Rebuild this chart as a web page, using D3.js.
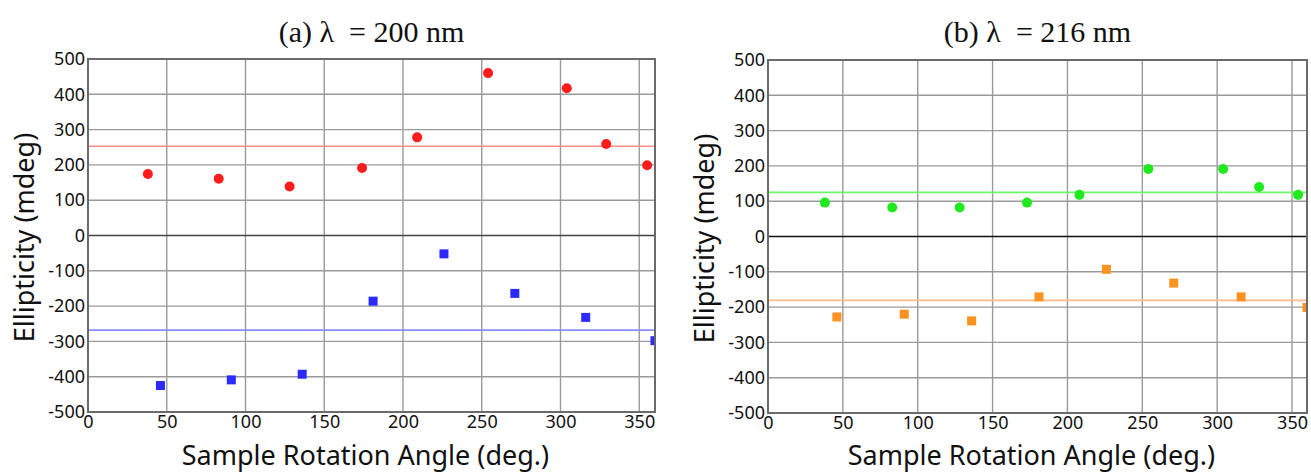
<!DOCTYPE html>
<html lang="en">
<head>
  <meta charset="UTF-8">
  <title>Ellipticity vs rotation angle</title>
  <style>
    body { margin: 0; background: #fff; }
    .tick text { font: 18px "Noto Sans", sans-serif; fill: #111; }
    .grid line { stroke: #9a9a9a; stroke-width: 1.4px; }
    .title { font: 30px "Liberation Serif", serif; fill: #111; white-space: pre; }
    .axis-title { font: 27px "Noto Sans", sans-serif; fill: #111; }
  </style>
</head>
<body>
  <svg width="1311" height="475"></svg>

  <script src="https://d3js.org/d3.v7.min.js"></script>
  <script>
    // tick labels
    const xTicks = [0, 50, 100, 150, 200, 250, 300, 350];
    const yTicks = [-500, -400, -300, -200, -100, 0, 100, 200, 300, 400, 500];

    // (a) 200 nm
    const anglesA_circ = [38, 83, 128, 174, 209, 254, 304, 329, 355];
    const valuesA_red  = [174, 161, 139, 191, 278, 460, 417, 259, 199];
    const anglesA_sq   = [46, 91, 136, 181, 226, 271, 316, 360];
    const valuesA_blue = [-425, -409, -393, -186, -52, -164, -232, -298];
    const meanA_red  = 253;
    const meanA_blue = -268;

    // (b) 216 nm
    const anglesB_circ   = [38, 83, 128, 173, 208, 254, 304, 328, 354];
    const valuesB_green  = [96, 82, 82, 96, 118, 191, 191, 140, 118];
    const anglesB_sq     = [46, 91, 136, 181, 226, 271, 316, 360];
    const valuesB_orange = [-228, -220, -239, -171, -93, -132, -171, -201];
    const meanB_green  = 125;
    const meanB_orange = -181;

    const svg = d3.select("svg");

    const panels = [
      {
        id: "a", title: "(a) \u03bb  = 200 nm",
        left: 88, right: 655, top: 59, bottom: 412,
        circ: { x: anglesA_circ, y: valuesA_red, color: "#ff1c1c", line: "#ff8c8c", mean: meanA_red },
        sq:   { x: anglesA_sq, y: valuesA_blue, color: "#2b2bff", line: "#8c8cff", mean: meanA_blue },
        zero: "#444"
      },
      {
        id: "b", title: "(b) \u03bb  = 216 nm",
        left: 768, right: 1307, top: 60, bottom: 413,
        circ: { x: anglesB_circ, y: valuesB_green, color: "#1eea1e", line: "#6cf76c", mean: meanB_green },
        sq:   { x: anglesB_sq, y: valuesB_orange, color: "#fb9322", line: "#ffb98a", mean: meanB_orange },
        zero: "#111"
      }
    ];

    panels.forEach(p => {
      const x = d3.scaleLinear().domain([0, 360]).range([p.left, p.right]);
      const y = d3.scaleLinear().domain([-500, 500]).range([p.bottom, p.top]);
      const g = svg.append("g");

      g.append("clipPath").attr("id", "clip-" + p.id)
        .append("rect")
        .attr("x", p.left).attr("y", p.top)
        .attr("width", p.right - p.left).attr("height", p.bottom - p.top);

      // grid
      g.append("g").attr("class", "grid")
        .selectAll("line").data(xTicks.filter(d => d > 0))
        .join("line")
        .attr("x1", d => x(d)).attr("x2", d => x(d))
        .attr("y1", p.top).attr("y2", p.bottom);
      g.append("g").attr("class", "grid")
        .selectAll("line").data(yTicks.filter(d => d !== 0 && d > -500 && d < 500))
        .join("line")
        .attr("x1", p.left).attr("x2", p.right)
        .attr("y1", d => y(d)).attr("y2", d => y(d));

      // zero line
      g.append("line")
        .attr("x1", p.left).attr("x2", p.right)
        .attr("y1", y(0)).attr("y2", y(0))
        .attr("stroke", p.zero).attr("stroke-width", 1.5);

      const plot = g.append("g").attr("clip-path", `url(#clip-${p.id})`);

      // mean lines
      [p.circ, p.sq].forEach(s => {
        plot.append("line")
          .attr("x1", p.left).attr("x2", p.right)
          .attr("y1", y(s.mean)).attr("y2", y(s.mean))
          .attr("stroke", s.line).attr("stroke-width", 1.6);
      });

      // markers
      plot.selectAll(".dot")
        .data(p.circ.x.map((a, i) => [a, p.circ.y[i]]))
        .join("circle")
        .attr("class", "dot")
        .attr("cx", d => x(d[0])).attr("cy", d => y(d[1]))
        .attr("r", 5)
        .attr("fill", p.circ.color);

      plot.selectAll(".sq")
        .data(p.sq.x.map((a, i) => [a, p.sq.y[i]]))
        .join("rect")
        .attr("class", "sq")
        .attr("x", d => x(d[0]) - 4.5).attr("y", d => y(d[1]) - 4.5)
        .attr("width", 9).attr("height", 9)
        .attr("fill", p.sq.color);

      // frame
      g.append("rect")
        .attr("x", p.left).attr("y", p.top)
        .attr("width", p.right - p.left).attr("height", p.bottom - p.top)
        .attr("fill", "none").attr("stroke", "#6a6a6a").attr("stroke-width", 2);

      // axes (labels only, plain hyphen for negatives)
      const xAxis = g.append("g")
        .attr("transform", `translate(0,${p.bottom})`)
        .call(d3.axisBottom(x).tickValues(xTicks).tickSize(0).tickPadding(3)
          .tickFormat(d => String(d)));
      xAxis.select(".domain").remove();

      const yAxis = g.append("g")
        .attr("transform", `translate(${p.left},0)`)
        .call(d3.axisLeft(y).tickValues(yTicks).tickSize(0).tickPadding(3)
          .tickFormat(d => String(d)));
      yAxis.select(".domain").remove();

      // titles
      g.append("text").attr("class", "title")
        .attr("x", (p.left + p.right) / 2).attr("y", 42)
        .attr("text-anchor", "middle")
        .text(p.title);

      g.append("text").attr("class", "axis-title")
        .attr("x", (p.left + p.right) / 2 - 6).attr("y", 465)
        .attr("text-anchor", "middle")
        .text("Sample Rotation Angle (deg.)");

      g.append("text").attr("class", "axis-title")
        .attr("transform", `translate(${p.left - 54},${(p.top + p.bottom) / 2 + 2}) rotate(-90)`)
        .attr("text-anchor", "middle")
        .text("Ellipticity (mdeg)");
    });
  </script>
</body>
</html>
